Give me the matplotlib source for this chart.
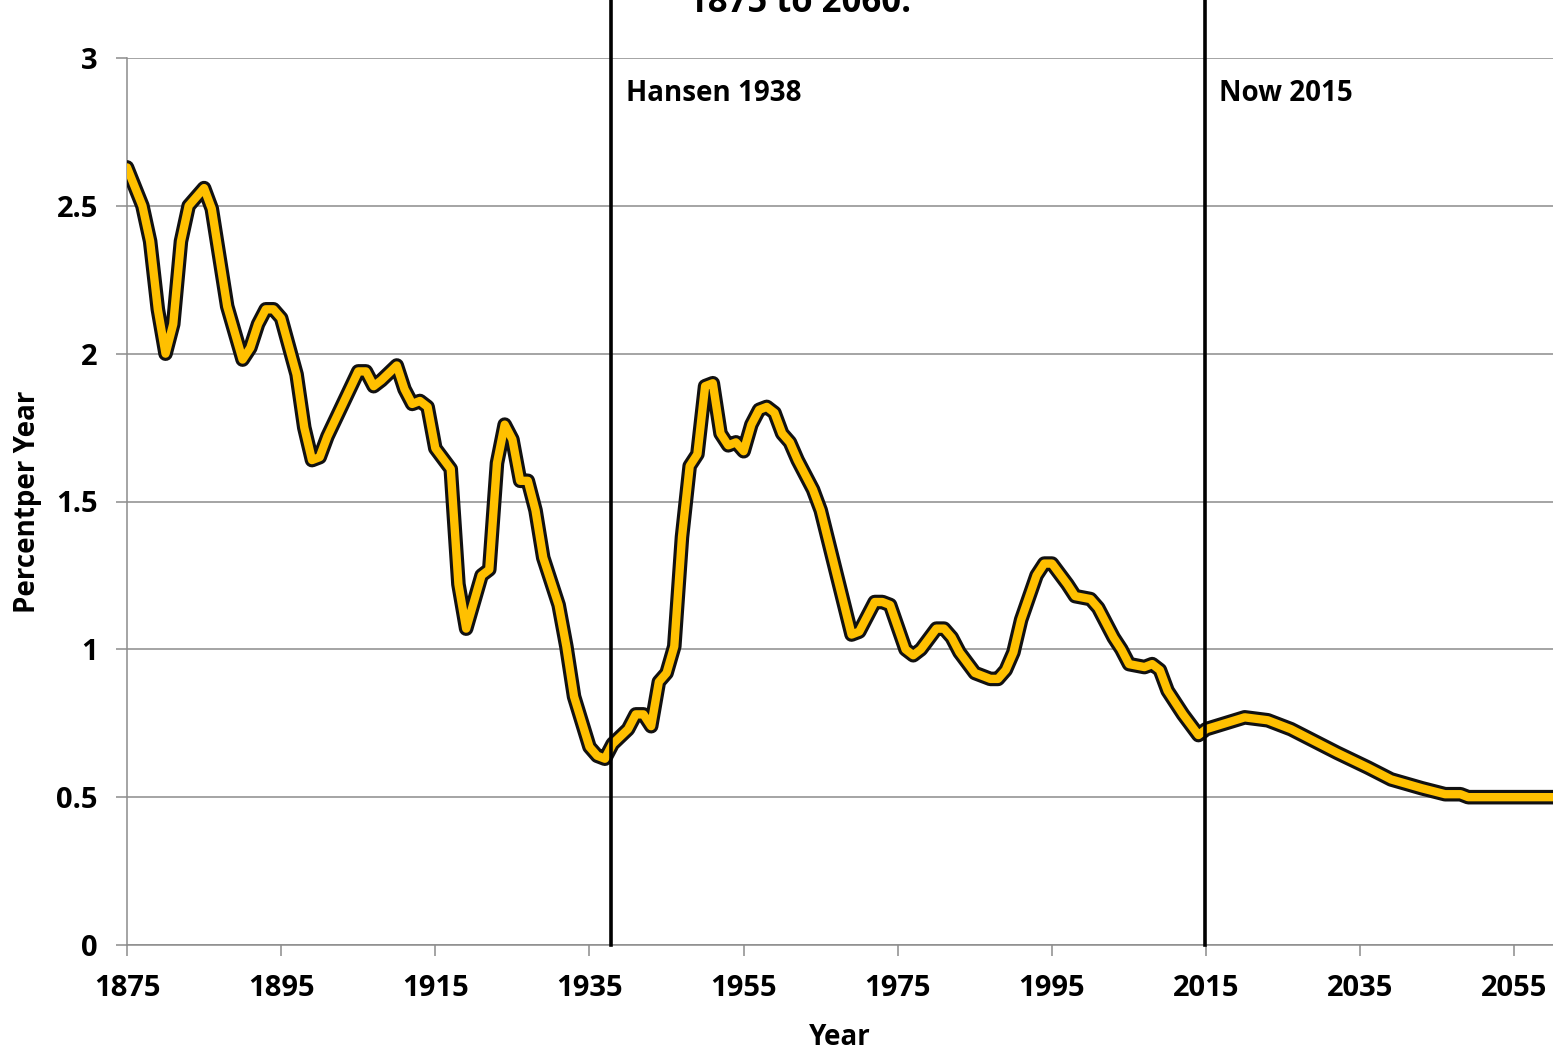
import matplotlib
matplotlib.use("Agg")
import matplotlib.pyplot as plt
import matplotlib.patheffects as pe

# ── Data ─────────────────────────────────────────────────────────────────────
years = [1875, 1877, 1878, 1879, 1880, 1881, 1882, 1883, 1885, 1886, 1888, 1890,
         1891, 1892, 1893, 1894, 1895, 1897, 1898, 1899, 1900, 1901, 1903, 1905,
         1906, 1907, 1908, 1910, 1911, 1912, 1913, 1914, 1915, 1917, 1918, 1919,
         1921, 1922, 1923, 1924, 1925, 1926, 1927, 1928, 1929, 1931, 1932, 1933,
         1935, 1936, 1937, 1938, 1940, 1941, 1942, 1943, 1944, 1945, 1946, 1947,
         1948, 1949, 1950, 1951, 1952, 1953, 1954, 1955, 1956, 1957, 1958, 1959,
         1960, 1961, 1962, 1964, 1965, 1967, 1969, 1970, 1972, 1973, 1974, 1976,
         1977, 1978, 1980, 1981, 1982, 1983, 1985, 1987, 1988, 1989, 1990, 1991,
         1993, 1994, 1995, 1997, 1998, 2000, 2001, 2003, 2004, 2005, 2007, 2008,
         2009, 2010, 2012, 2014, 2015, 2020, 2023, 2026, 2029, 2032, 2036, 2039,
         2043, 2046, 2048, 2049, 2060]
rate = [2.63, 2.50, 2.38, 2.15, 2.00, 2.10, 2.38, 2.50, 2.56, 2.49, 2.16, 1.98,
        2.02, 2.10, 2.15, 2.15, 2.12, 1.93, 1.75, 1.64, 1.65, 1.72, 1.83, 1.94,
        1.94, 1.89, 1.91, 1.96, 1.88, 1.83, 1.84, 1.82, 1.68, 1.61, 1.22, 1.07,
        1.25, 1.27, 1.63, 1.76, 1.71, 1.57, 1.57, 1.47, 1.31, 1.15, 1.01, 0.84,
        0.67, 0.64, 0.63, 0.68, 0.73, 0.78, 0.78, 0.74, 0.89, 0.92, 1.01, 1.38,
        1.62, 1.66, 1.89, 1.90, 1.73, 1.69, 1.70, 1.67, 1.76, 1.81, 1.82, 1.80,
        1.73, 1.70, 1.64, 1.54, 1.47, 1.26, 1.05, 1.06, 1.16, 1.16, 1.15, 1.00,
        0.98, 1.00, 1.07, 1.07, 1.04, 0.99, 0.92, 0.90, 0.90, 0.93, 0.99, 1.10,
        1.25, 1.29, 1.29, 1.22, 1.18, 1.17, 1.14, 1.04, 1.00, 0.95, 0.94, 0.95,
        0.93, 0.86, 0.78, 0.71, 0.73, 0.77, 0.76, 0.73, 0.69, 0.65, 0.60, 0.56,
        0.53, 0.51, 0.51, 0.50, 0.50]

marker_years = [1938, 2015]
marker_labels = ["Hansen 1938", "Now 2015"]
x_ticks = [1875, 1895, 1915, 1935, 1955, 1975, 1995, 2015, 2035, 2055]
y_ticks = [0, 0.5, 1, 1.5, 2, 2.5, 3]
y_tick_labels = ["0", "0.5", "1", "1.5", "2", "2.5", "3"]

plt.rcParams["font.family"] = ["Open Sans", "DejaVu Sans"]
plt.rcParams["font.weight"] = "bold"
grid_c = "#8c8c8c"

fig = plt.figure(figsize=(15.53, 10.51), dpi=100)
ax = fig.add_axes([127 / 1553, 1 - 945 / 1051, 1 - 127 / 1553, (945 - 58) / 1051])

ax.plot(years, rate, color="#FFC000", lw=6, solid_joinstyle="round",
        solid_capstyle="round", zorder=3,
        path_effects=[pe.Stroke(linewidth=10.5, foreground="#111111"), pe.Normal()])

for yr, lab in zip(marker_years, marker_labels):
    ax.axvline(yr - 0.2, ymin=0, ymax=1.065, color="black", lw=2.6, clip_on=False, zorder=4)
    ax.text(yr + 1.7, 2.88, lab, fontsize=20, fontweight="bold", va="center", ha="left")

ax.set_xlim(1875, 2060)
ax.set_ylim(0, 3)
ax.set_xticks(x_ticks)
ax.set_yticks(y_ticks)
ax.set_yticklabels(y_tick_labels)
ax.grid(axis="y", color=grid_c, lw=1.1)
ax.set_axisbelow(True)
for s in ["top", "right"]:
    ax.spines[s].set_visible(False)
for s in ["left", "bottom"]:
    ax.spines[s].set_color(grid_c)
    ax.spines[s].set_linewidth(1.1)
ax.tick_params(axis="both", colors=grid_c, length=8, width=1.1, pad=13,
               labelcolor="black", labelsize=21)
for lbl in ax.get_xticklabels() + ax.get_yticklabels():
    lbl.set_fontweight("bold")

ax.set_xlabel("Year", fontsize=20, fontweight="bold", labelpad=14)
ax.set_ylabel("Percentper Year", fontsize=20, fontweight="bold", labelpad=10)

fig.text(800 / 1553, 1 - 12 / 1051, "1875 to 2060.", fontsize=25, fontweight="bold",
         ha="center", va="baseline")

fig.savefig("out.png", dpi=100, facecolor="white")
